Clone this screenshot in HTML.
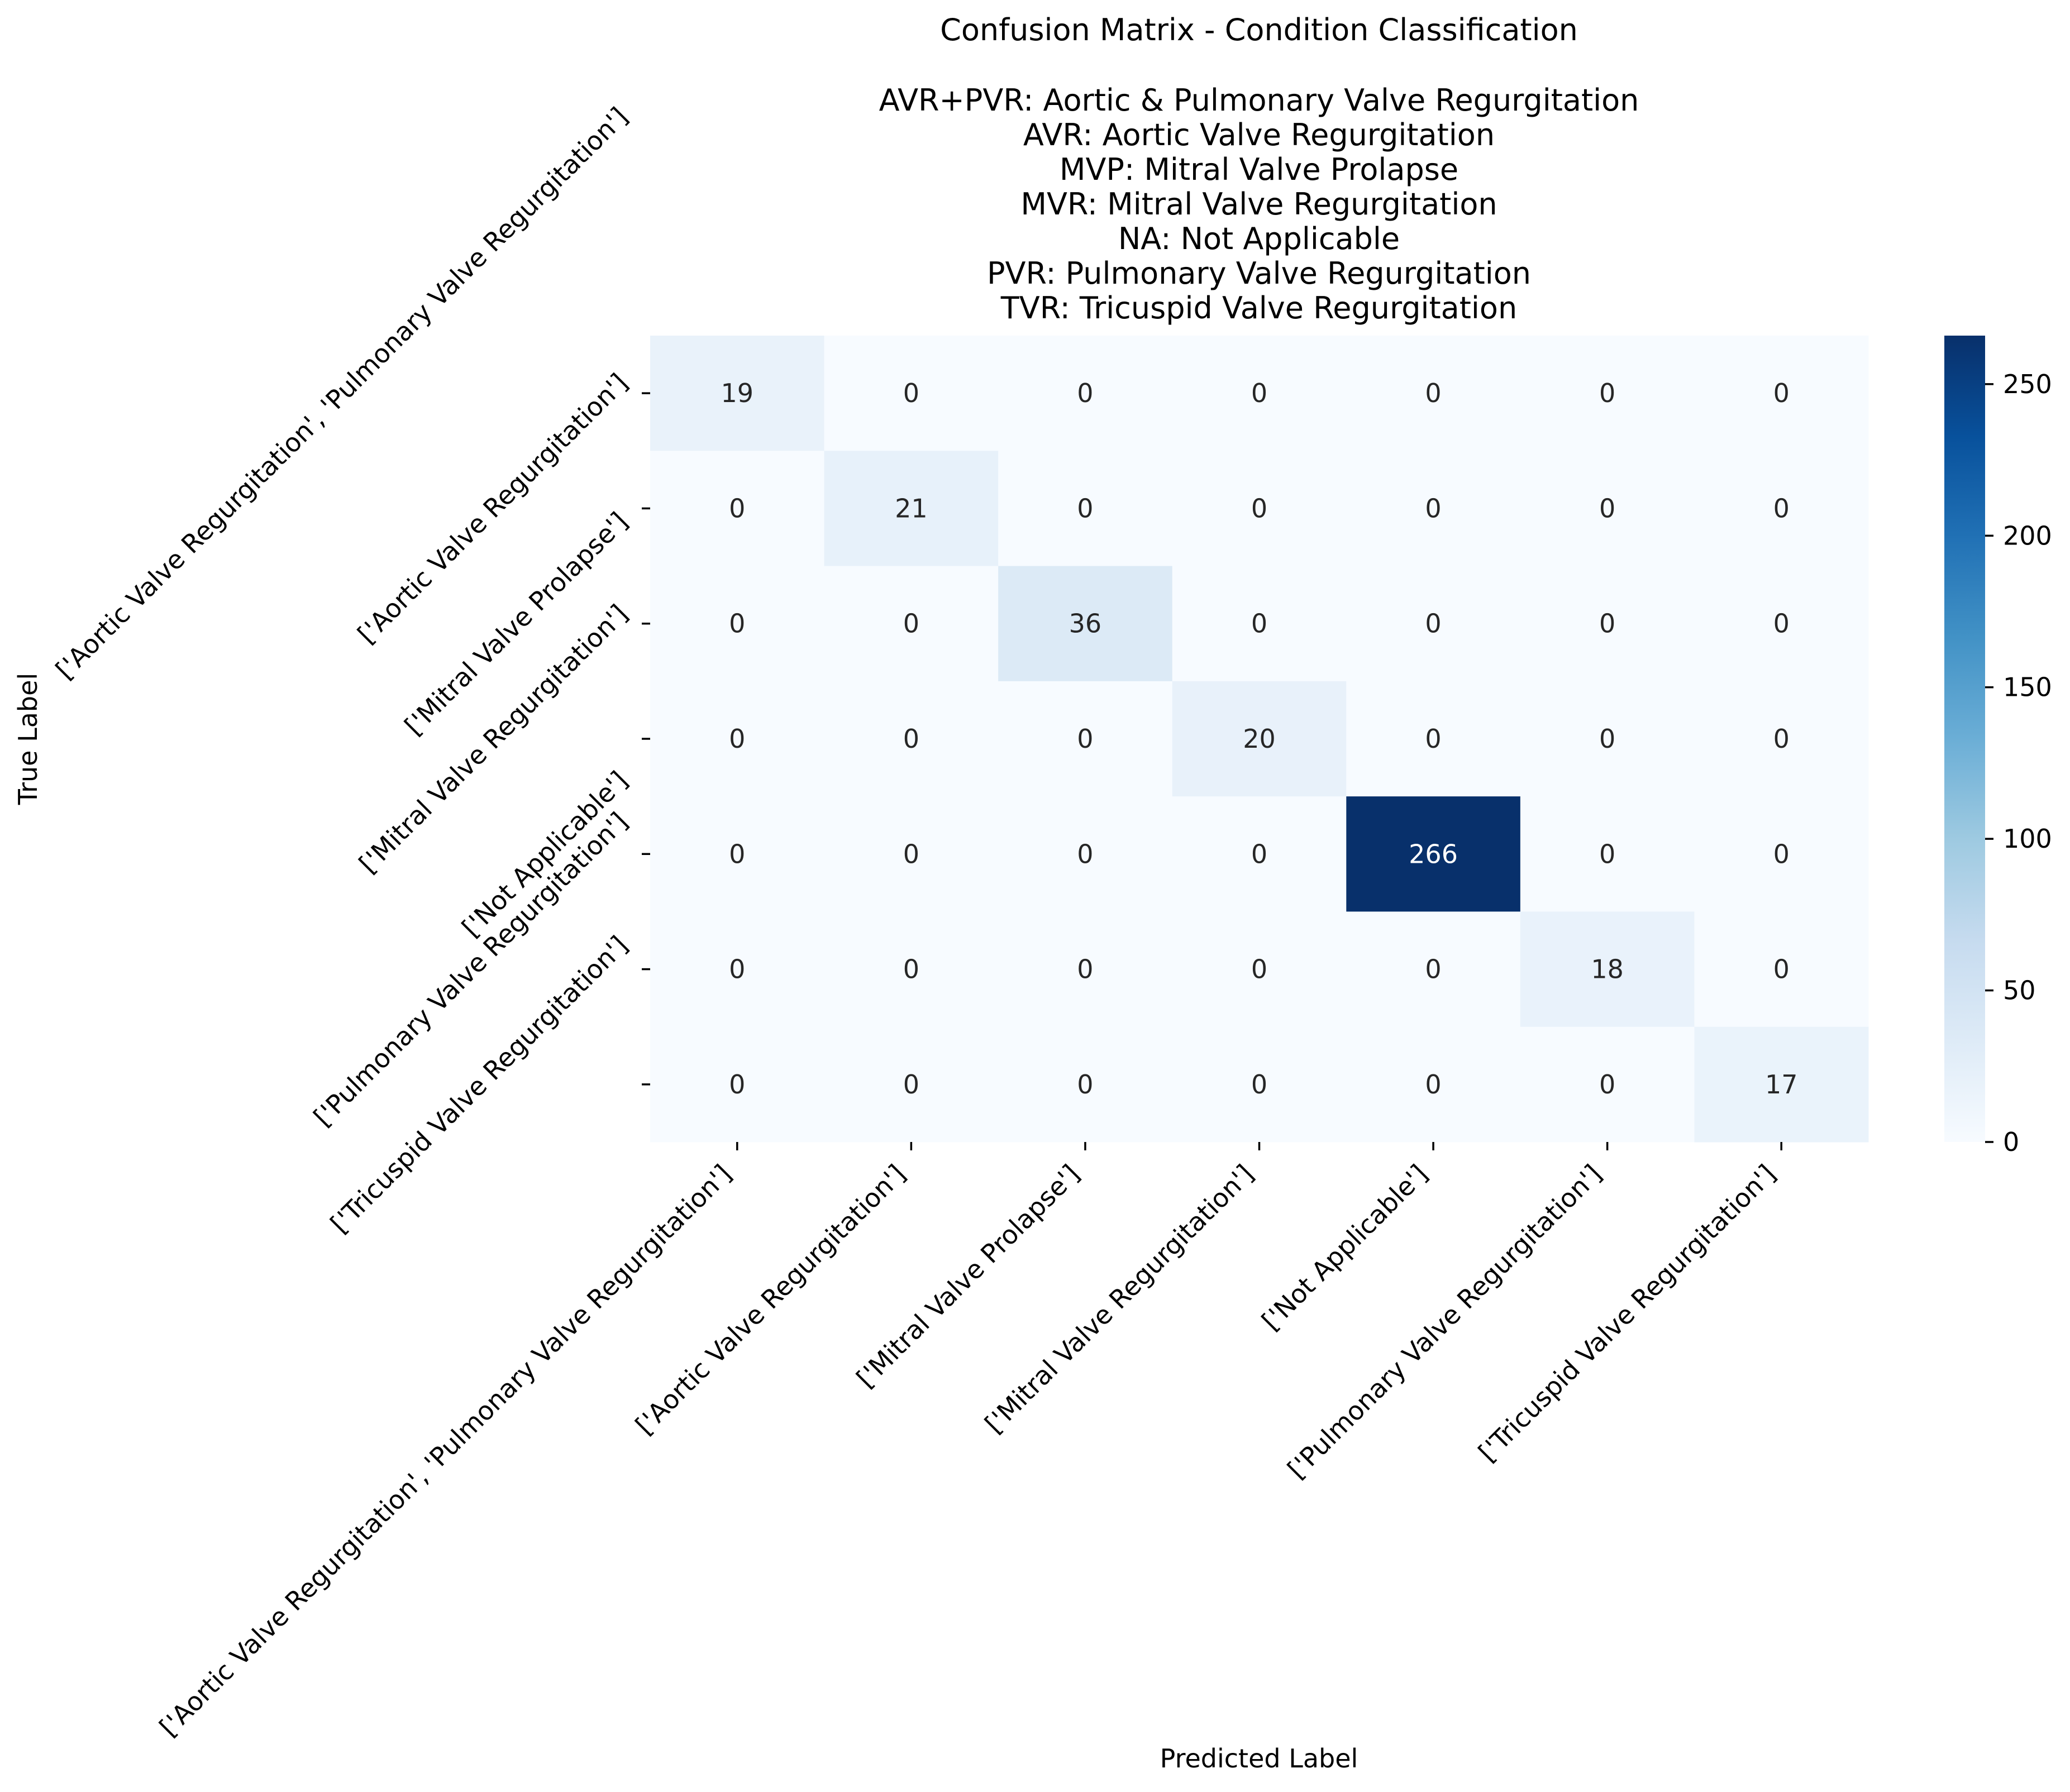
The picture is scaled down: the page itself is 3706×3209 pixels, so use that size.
<!DOCTYPE html>
<html><head><meta charset="utf-8">
<style>
html,body{margin:0;padding:0;background:#fff;}
svg{display:block;font-family:"DejaVu Sans","Liberation Sans",sans-serif;}
</style></head>
<body>
<svg id="chart" width="3706" height="3209" viewBox="0 0 3706 3209" xmlns="http://www.w3.org/2000/svg">
<defs>
<linearGradient id="cbgrad" x1="0" y1="1" x2="0" y2="0">
<stop offset="0" stop-color="#f7fbff"/><stop offset="0.125" stop-color="#deebf7"/><stop offset="0.25" stop-color="#c6dbef"/><stop offset="0.375" stop-color="#9ecae1"/><stop offset="0.5" stop-color="#6baed6"/><stop offset="0.625" stop-color="#4292c6"/><stop offset="0.75" stop-color="#2171b5"/><stop offset="0.875" stop-color="#08519c"/><stop offset="1" stop-color="#08306b"/>
</linearGradient>
</defs>
<g font-size="54" text-anchor="middle" fill="#000">
<text x="2254" y="72">Confusion Matrix - Condition Classification</text>
<text x="2254" y="198">AVR+PVR: Aortic &amp; Pulmonary Valve Regurgitation</text>
<text x="2254" y="260">AVR: Aortic Valve Regurgitation</text>
<text x="2254" y="322">MVP: Mitral Valve Prolapse</text>
<text x="2254" y="384">MVR: Mitral Valve Regurgitation</text>
<text x="2254" y="446">NA: Not Applicable</text>
<text x="2254" y="508">PVR: Pulmonary Valve Regurgitation</text>
<text x="2254" y="570">TVR: Tricuspid Valve Regurgitation</text>
</g>
<g id="cells"></g>
<g id="yticks"></g>
<g id="xticks"></g>
<text x="0" y="0" font-size="46" text-anchor="middle" transform="translate(66,1323) rotate(-90)">True Label</text>
<text x="2254" y="3165" font-size="46" text-anchor="middle">Predicted Label</text>
<rect x="3481" y="601" width="73" height="1444" fill="url(#cbgrad)"/>
<g id="cbticks"></g>
</svg>
<script>
const labels = ["['Aortic Valve Regurgitation', 'Pulmonary Valve Regurgitation']","['Aortic Valve Regurgitation']","['Mitral Valve Prolapse']","['Mitral Valve Regurgitation']","['Not Applicable']","['Pulmonary Valve Regurgitation']","['Tricuspid Valve Regurgitation']"];
const row0 = [19,0,0,0,0,0,0];
const row1 = [0,21,0,0,0,0,0];
const row2 = [0,0,36,0,0,0,0];
const row3 = [0,0,0,20,0,0,0];
const row4 = [0,0,0,0,266,0,0];
const row5 = [0,0,0,0,0,18,0];
const row6 = [0,0,0,0,0,0,17];
const cbTicks = [0,50,100,150,200,250];

const matrix = [row0,row1,row2,row3,row4,row5,row6];
const NS = "http://www.w3.org/2000/svg";
const L = 1164, R = 3345, T = 601, B = 2045;
const n = labels.length;
const cw = (R - L) / n, ch = (B - T) / n;
const vmin = 0;
const vmax = Math.max(...matrix.flat());
const xPos = i => L + i * cw;
const yPos = j => T + j * ch;
const cbY = v => B - (v - vmin) / (vmax - vmin) * (B - T);
const stops = ["#f7fbff","#deebf7","#c6dbef","#9ecae1","#6baed6","#4292c6","#2171b5","#08519c","#08306b"];
function hex(h){return [1,3,5].map(k=>parseInt(h.substr(k,2),16));}
function color(v){
  let t = (v - vmin) / (vmax - vmin); t = Math.max(0, Math.min(1, t));
  const p = t * 8, i = Math.min(7, Math.floor(p)), f = p - i;
  const a = hex(stops[i]), b = hex(stops[i+1]);
  return "rgb(" + a.map((c,k)=>Math.round(c + (b[k]-c)*f)).join(",") + ")";
}
function mk(tag, attrs, parent){const e=document.createElementNS(NS,tag);for(const k in attrs)e.setAttribute(k,attrs[k]);parent.appendChild(e);return e;}

const cells = document.getElementById('cells');
matrix.forEach((row, r) => row.forEach((v, c) => {
  const rect = mk('rect', {x:xPos(c), y:yPos(r), width:cw+0.5, height:ch+0.5, fill:color(v)}, cells);
  
  
  const t = mk('text', {x:xPos(c)+cw/2, y:yPos(r)+ch/2, 'font-size':46, 'text-anchor':'middle', 'dominant-baseline':'central', fill:(v-vmin)/(vmax-vmin) > 0.5 ? '#ffffff' : '#262626'}, cells);
  t.textContent = v;
  
  
}));

const fs = 46, h = fs * 1.16, s = Math.SQRT1_2;
const yt = document.getElementById('yticks');
labels.forEach((lab, j) => {
  const cy = yPos(j) + ch/2;
  const tk = mk('line', {x1:L-15, x2:L, y1:cy, y2:cy, stroke:'#000', 'stroke-width':3.5}, yt);
  
  
  const t = mk('text', {'font-size':fs, 'text-anchor':'end', 'dominant-baseline':'central'}, yt);
  t.textContent = lab;
  
  
  const len = t.getComputedTextLength();
  const ex = L - 15 - 15 - h * s / 2;
  const ey = cy - len * s / 2;
  t.setAttribute('transform', 'translate(' + ex + ',' + ey + ') rotate(-45)');
});
const xt = document.getElementById('xticks');
labels.forEach((lab, i) => {
  const cx = xPos(i) + cw/2;
  const tk = mk('line', {x1:cx, x2:cx, y1:B, y2:B+15, stroke:'#000', 'stroke-width':3.5}, xt);
  
  
  const t = mk('text', {'font-size':fs, 'text-anchor':'end', 'dominant-baseline':'central'}, xt);
  t.textContent = lab;
  
  
  const ex = cx - h * s / 2;
  const ey = B + 15 + 15 + h * s / 2;
  t.setAttribute('transform', 'translate(' + ex + ',' + ey + ') rotate(-45)');
});
const cbt = document.getElementById('cbticks');
cbTicks.forEach(v => {
  const y = cbY(v);
  const tk = mk('line', {x1:3554, x2:3569, y1:y, y2:y, stroke:'#000', 'stroke-width':3.5}, cbt);
  
  
  const t = mk('text', {x:3586, y:y, 'font-size':fs, 'dominant-baseline':'central'}, cbt);
  t.textContent = v;
  
  
});
</script>
</body></html>
